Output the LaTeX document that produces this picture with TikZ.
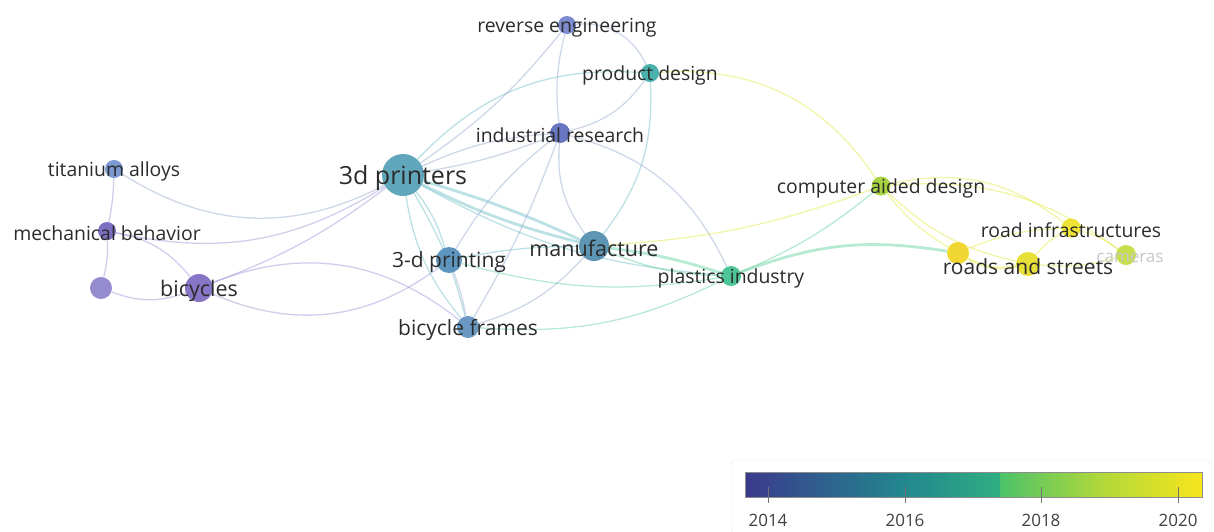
\documentclass[tikz,border=0pt]{standalone}
\usepackage{fontspec}
\setmainfont{Open Sans}
\usetikzlibrary{backgrounds}
\definecolor{ink}{HTML}{2B2B2B}
\definecolor{cprt}{HTML}{4F9DB5}
\definecolor{ctit}{HTML}{6E8ECF}
\definecolor{cmech}{HTML}{6B5FB9}
\definecolor{cnb}{HTML}{8A7FCA}
\definecolor{cbic}{HTML}{7A67C0}
\definecolor{crev}{HTML}{6F7FCB}
\definecolor{cind}{HTML}{5866B9}
\definecolor{cprd}{HTML}{37A9A6}
\definecolor{cpd}{HTML}{4C8BB8}
\definecolor{cman}{HTML}{4B8AAB}
\definecolor{cfrm}{HTML}{5A8DBD}
\definecolor{cpla}{HTML}{3BBF8C}
\definecolor{ccad}{HTML}{9DCF2B}
\definecolor{crin}{HTML}{ECDF1E}
\definecolor{crds}{HTML}{E6DC22}
\definecolor{cyn}{HTML}{EFD31C}
\definecolor{ccam}{HTML}{C3DA38}
\definecolor{epur}{HTML}{9A92D6}
\definecolor{eblu}{HTML}{92A8CC}
\definecolor{etea}{HTML}{6BBCC6}
\definecolor{egrn}{HTML}{5DD09C}
\definecolor{eyel}{HTML}{E2E83C}
\definecolor{vir0}{HTML}{3B3A8D}
\definecolor{vir1}{HTML}{22888E}
\definecolor{vir2}{HTML}{2FAE80}
\definecolor{vir3}{HTML}{4CC26A}
\definecolor{vir4}{HTML}{B0D83A}
\definecolor{vir5}{HTML}{F7E51C}
\tikzset{
	kw/.style = {
		circle,
		inner sep=0pt,
		minimum size=2*#1,
		fill opacity=0.9
	},
	term/.style = {
		font=\fontsize{#1}{#1}\selectfont,
		text=ink,
		inner sep=0pt,
		yshift=-2.5pt
	},
	term/.default=19.4,
	link/.style = {
		draw=#1,
		line width=1.3pt,
		draw opacity=0.45
	},
	heavy/.style = {
		line width=2.8pt
	},
	yeartick/.style = {
		draw=black!55,
		line width=0.8pt
	}
}

\begin{document}
\begin{tikzpicture}[x=1pt,y=1pt]
	\useasboundingbox (0,0) rectangle (1214,-531);

	\node[kw=21, fill=cprt] (prt) at (403,-175) {};
	\node[kw=9, fill=ctit] (tit) at (114,-169) {};
	\node[kw=9, fill=cmech] (mech) at (107,-231) {};
	\node[kw=11, fill=cnb] (nb) at (101,-288) {};
	\node[kw=14, fill=cbic] (bic) at (199,-288) {};
	\node[kw=9, fill=crev] (rev) at (567,-25) {};
	\node[kw=9, fill=cprd] (prd) at (650,-73) {};
	\node[kw=10, fill=cind] (ind) at (560,-133) {};
	\node[kw=13, fill=cpd] (pd) at (449,-260) {};
	\node[kw=15, fill=cman] (man) at (594,-246) {};
	\node[kw=11, fill=cfrm] (frm) at (468,-327) {};
	\node[kw=10, fill=cpla] (pla) at (731,-276) {};
	\node[kw=9.5, fill=ccad] (cad) at (881,-186) {};
	\node[kw=9.5, fill=crin] (rin) at (1071,-228) {};
	\node[kw=12, fill=crds] (rds) at (1028,-264) {};
	\node[kw=11, fill=cyn] (yn) at (958,-253) {};
	\node[kw=10, fill=ccam] (cam) at (1126,-255) {};

	\begin{scope}[on background layer]
		\draw[link=epur] (tit) to[bend left=5] (mech);
		\draw[link=epur] (mech) to[bend left=8] (nb);
		\draw[link=epur] (nb) to[bend right=20] (bic);
		\draw[link=epur] (mech) to[bend left=20] (bic);
		\draw[link=eblu] (tit) to[bend right=30] (prt);
		\draw[link=epur] (mech) to[bend right=22] (prt);
		\draw[link=epur] (bic) to[bend right=8] (prt);
		\draw[link=epur] (bic) to[bend left=30] (frm);
		\draw[link=epur] (bic) to[bend right=30] (pd);
		\draw[link=etea] (prt) to[bend left=25] (prd);
		\draw[link=eblu] (prt) to[bend right=8] (rev);
		\draw[link=eblu] (prt) to[bend left=10] (ind);
		\draw[link=eblu] (prt) to[bend right=6] (ind);
		\draw[link=etea, heavy] (prt) to[bend right=6] (man);
		\draw[link=etea, heavy] (prt) to[bend left=4] (man);
		\draw[link=etea] (prt) to[bend right=12] (pla);
		\draw[link=etea] (prt) to[bend left=10] (pd);
		\draw[link=etea] (prt) to[bend right=15] (frm);
		\draw[link=etea] (prt) to[bend left=8] (frm);
		\draw[link=eblu] (ind) to[bend left=10] (rev);
		\draw[link=eblu] (ind) to[bend right=20] (prd);
		\draw[link=eblu] (ind) to[bend right=20] (man);
		\draw[link=eblu] (ind) to[bend right=10] (pd);
		\draw[link=eblu] (ind) to[bend left=5] (frm);
		\draw[link=eblu] (ind) to[bend left=25] (pla);
		\draw[link=eblu] (rev) to[bend left=35] (prd);
		\draw[link=etea] (prd) to[bend left=20] (man);
		\draw[link=eyel] (prd) to[bend left=30] (cad);
		\draw[link=egrn, heavy] (man) to[bend left=5] (pla);
		\draw[link=egrn] (man) to[bend right=10] (pla);
		\draw[link=eyel] (man) to[bend right=8] (cad);
		\draw[link=eblu] (man) to[bend left=15] (frm);
		\draw[link=etea] (man) to[bend right=5] (pd);
		\draw[link=eblu] (pd) to[bend left=5] (frm);
		\draw[link=egrn] (pd) to[bend right=12] (pla);
		\draw[link=egrn] (frm) to[bend right=15] (pla);
		\draw[link=egrn] (pla) to[bend right=8] (cad);
		\draw[link=egrn, heavy] (pla) to[bend left=15] (yn);
		\draw[link=eyel] (cad) to[bend right=10] (yn);
		\draw[link=eyel] (cad) to[bend right=15] (rds);
		\draw[link=eyel] (cad) to[bend left=25] (rin);
		\draw[link=eyel] (cad) to[bend left=20] (cam);
		\draw[link=eyel, heavy] (yn) to[bend right=20] (rds);
		\draw[link=eyel] (yn) to[bend left=10] (rin);
		\draw[link=eyel] (rds) to[bend left=10] (rin);
		\draw[link=eyel] (rin) to[bend left=10] (cam);
		\draw[link=eyel] (rds) to[bend right=10] (cam);
	\end{scope}

	\node[term=25] (t-prt) at (prt) {3d printers};
	\node[term] (t-tit) at (tit) {titanium alloys};
	\node[term] (t-mech) at (mech) {mechanical behavior};
	\node[term=21.5] (t-bic) at (bic) {bicycles};
	\node[term] (t-rev) at (rev) {reverse engineering};
	\node[term] (t-prd) at (prd) {product design};
	\node[term] (t-ind) at (ind) {industrial research};
	\node[term=21] (t-pd) at (pd) {3-d printing};
	\node[term=21.5] (t-man) at (man) {manufacture};
	\node[term=21] (t-frm) at (frm) {bicycle frames};
	\node[term] (t-pla) at (pla) {plastics industry};
	\node[term] (t-cad) at (cad) {computer aided design};
	\node[term] (t-rin) at (rin) {road infrastructures};
	\node[term=21] (t-rds) at (rds) {roads and streets};
	\node[term=17, text=black!22] (t-cam) at (1130,-255) {cameras};

	\draw[black!10, rounded corners=4pt] (731,-460) rectangle (1211,-533);
	\shade[left color=vir0, right color=vir1] (745,-472) rectangle (905,-497);
	\shade[left color=vir1, right color=vir2] (905,-472) rectangle (1000,-497);
	\shade[left color=vir3, right color=vir4] (1000,-472) rectangle (1100,-497);
	\shade[left color=vir4, right color=vir5] (1100,-472) rectangle (1202,-497);
	\draw[black!45, line width=0.8pt] (745,-472) rectangle (1202,-497);
	\foreach \yr/\xp in {2014/768, 2016/905, 2018/1041, 2020/1178} {
		\draw[yeartick] (\xp,-487) -- (\xp,-503);
		\node[term=17, text=black!75] (yr-\yr) at (\xp,-518) {\yr};
	}
\end{tikzpicture}
\end{document}
